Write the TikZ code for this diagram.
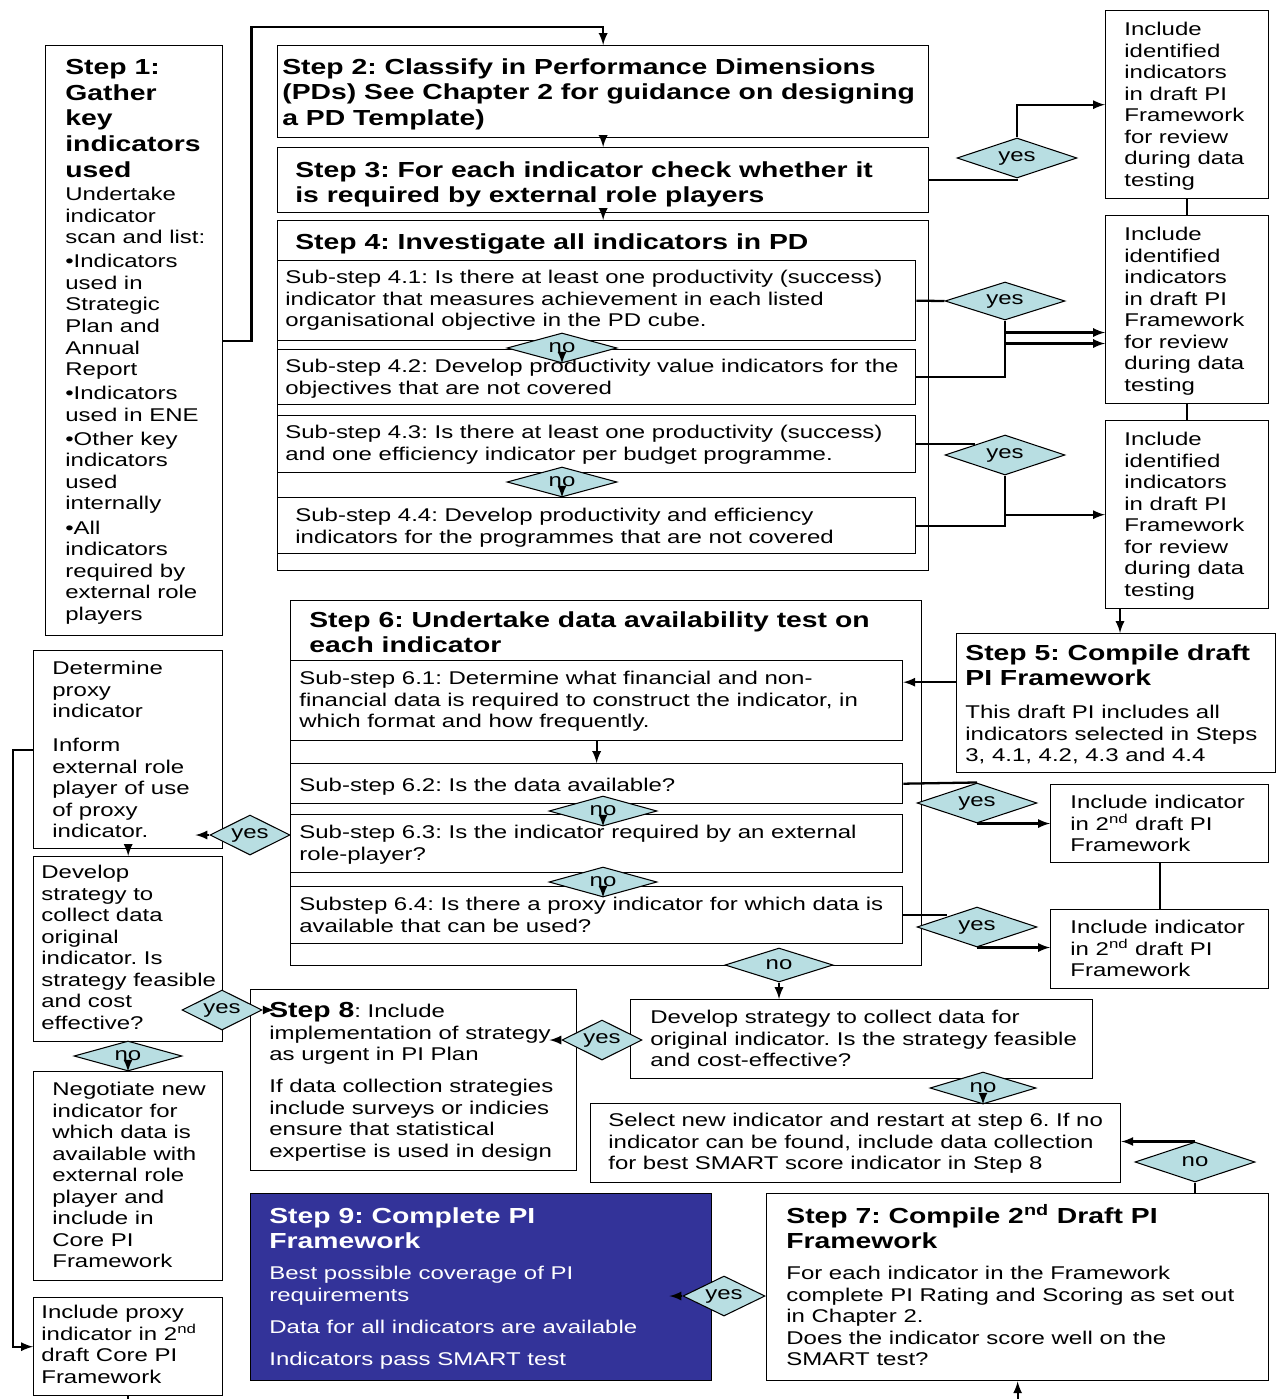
\documentclass[tikz,border=0pt]{standalone}
\usepackage{fontspec}
\setmainfont{Liberation Sans}[FakeStretch=1.3]
\usepackage{xcolor}
\usepackage{tikz}
\usetikzlibrary{calc, shapes.geometric, positioning}
\definecolor{diafill}{RGB}{184,222,226}
\definecolor{stepnine}{RGB}{51,51,153}
\frenchspacing

\begin{document}
\begin{tikzpicture}[>=latex, x=0.02cm, y=-0.02cm,
    box/.style={draw, line width=0.8pt, inner sep=0pt, anchor=north west},
    txt/.style={anchor=north west, inner sep=0pt, align=left, font=\fontsize{10.5}{12.25}\selectfont},
    hdr/.style={anchor=north west, inner sep=0pt, align=left, font=\fontsize{12.4}{14.6}\selectfont\bfseries},
    dia/.style={diamond, draw, fill=diafill, line width=0.6pt, inner sep=0pt, aspect=3, font=\fontsize{10.5}{12}\selectfont},
    link/.style={line width=1.3pt}]
    \useasboundingbox (0,0) rectangle (1276,1399);

    % Kästen
    \node[box, minimum width=3.54cm, minimum height=11.8cm] (s1) at (45,45) {};
    \node[box, minimum width=13.02cm, minimum height=1.84cm] (s2) at (277,45) {};
    \node[box, minimum width=13.02cm, minimum height=1.3cm] (s3) at (277,147) {};
    \node[box, minimum width=13.02cm, minimum height=7cm] (s4) at (277,220) {};
    \node[box, minimum width=12.76cm, minimum height=1.6cm] (s41) at (277,260) {};
    \node[box, minimum width=12.76cm, minimum height=1.1cm] (s42) at (277,349) {};
    \node[box, minimum width=12.76cm, minimum height=1.14cm] (s43) at (277,415) {};
    \node[box, minimum width=12.76cm, minimum height=1.12cm] (s44) at (277,497) {};
    \node[box, minimum width=3.26cm, minimum height=3.76cm] (r1) at (1105,10) {};
    \node[box, minimum width=3.26cm, minimum height=3.76cm] (r2) at (1105,215) {};
    \node[box, minimum width=3.26cm, minimum height=3.76cm] (r3) at (1105,420) {};
    \node[box, minimum width=6.38cm, minimum height=2.78cm] (s5) at (956,633) {};
    \node[box, minimum width=12.62cm, minimum height=7.3cm] (s6) at (290,600) {};
    \node[box, minimum width=12.24cm, minimum height=1.6cm] (s61) at (290,660) {};
    \node[box, minimum width=12.24cm, minimum height=0.8cm] (s62) at (290,763) {};
    \node[box, minimum width=12.24cm, minimum height=1.16cm] (s63) at (290,814) {};
    \node[box, minimum width=12.24cm, minimum height=1.14cm] (s64) at (290,886) {};
    \node[box, minimum width=4.36cm, minimum height=1.56cm] (i2a) at (1050,784) {};
    \node[box, minimum width=4.36cm, minimum height=1.58cm] (i2b) at (1050,909) {};
    \node[box, minimum width=3.78cm, minimum height=3.96cm] (dp) at (33,650) {};
    \node[box, minimum width=3.78cm, minimum height=3.7cm] (ds) at (33,856) {};
    \node[box, minimum width=3.78cm, minimum height=4.18cm] (ng) at (33,1071) {};
    \node[box, minimum width=3.78cm, minimum height=1.96cm] (ip) at (33,1297) {};
    \node[box, minimum width=6.52cm, minimum height=3.62cm] (s8) at (250,989) {};
    \node[box, minimum width=9.24cm, minimum height=1.58cm] (dv) at (630,999) {};
    \node[box, minimum width=10.6cm, minimum height=1.58cm] (sel) at (590,1103) {};
    \node[box, minimum width=10.04cm, minimum height=3.74cm] (s7) at (766,1193) {};
    \node[box, fill=stepnine, minimum width=9.22cm, minimum height=3.74cm] (s9) at (250,1193) {};

    % Texte
    \node[hdr] (s1h) at (65,59) {Step 1:\\Gather\\key\\indicators\\used};
    \node[txt] (s1t) at (65,187) {Undertake\\indicator\\scan and list:\\[1.5pt]•Indicators\\used in\\Strategic\\Plan and\\Annual\\Report\\[1.5pt]•Indicators\\used in ENE\\[1.5pt]•Other key\\indicators\\used\\internally\\[1.5pt]•All\\indicators\\required by\\external role\\players};
    \node[hdr] (s2h) at (282,58) {Step 2: Classify in Performance Dimensions\\(PDs) See Chapter 2 for guidance on designing\\a PD Template)};
    \node[hdr] (s3h) at (295,161) {Step 3: For each indicator check whether it\\is required by external role players};
    \node[hdr] (s4h) at (295,233) {Step 4: Investigate all indicators in PD};
    \node[txt] (s41t) at (285,270) {Sub-step 4.1: Is there at least one productivity (success)\\indicator that measures achievement in each listed\\organisational objective in the PD cube.};
    \node[txt] (s42t) at (285,359) {Sub-step 4.2: Develop productivity value indicators for the\\objectives that are not covered};
    \node[txt] (s43t) at (285,425) {Sub-step 4.3: Is there at least one productivity (success)\\and one efficiency indicator per budget programme.};
    \node[txt] (s44t) at (295,508) {Sub-step 4.4: Develop productivity and efficiency\\indicators for the programmes that are not covered};
    \node[txt] (r1t) at (1124,22) {Include\\identified\\indicators\\in draft PI\\Framework\\for review\\during data\\testing};
    \node[txt] (r2t) at (1124,227) {Include\\identified\\indicators\\in draft PI\\Framework\\for review\\during data\\testing};
    \node[txt] (r3t) at (1124,432) {Include\\identified\\indicators\\in draft PI\\Framework\\for review\\during data\\testing};
    \node[hdr] (s5h) at (965,644) {Step 5: Compile draft\\PI Framework};
    \node[txt] (s5t) at (965,705) {This draft PI includes all\\indicators selected in Steps\\3, 4.1, 4.2, 4.3 and 4.4};
    \node[hdr] (s6h) at (309,611) {Step 6: Undertake data availability test on\\each indicator};
    \node[txt] (s61t) at (299,671) {Sub-step 6.1: Determine what financial and non-\\financial data is required to construct the indicator, in\\which format and how frequently.};
    \node[txt] (s62t) at (299,778) {Sub-step 6.2: Is the data available?};
    \node[txt] (s63t) at (299,825) {Sub-step 6.3: Is the indicator required by an external\\role-player?};
    \node[txt] (s64t) at (299,897) {Substep 6.4: Is there a proxy indicator for which data is\\available that can be used?};
    \node[txt] (i2at) at (1070,795) {Include indicator\\in 2\smash{\textsuperscript{nd}} draft PI\\Framework};
    \node[txt] (i2bt) at (1070,920) {Include indicator\\in 2\smash{\textsuperscript{nd}} draft PI\\Framework};
    \node[txt] (dpt) at (52,661) {Determine\\proxy\\indicator\\[7pt]Inform\\external role\\player of use\\of proxy\\indicator.};
    \node[txt] (dst) at (41,865) {Develop\\strategy to\\collect data\\original\\indicator. Is\\strategy feasible\\and cost\\effective?};
    \node[txt] (ngt) at (52,1082) {Negotiate new\\indicator for\\which data is\\available with\\external role\\player and\\include in\\Core PI\\Framework};
    \node[txt] (ipt) at (41,1305) {Include proxy\\indicator in 2\smash{\textsuperscript{nd}}\\draft Core PI\\Framework};
    \node[txt] (s8t) at (269,1002) {{\fontsize{12.4}{14.6}\selectfont\bfseries Step 8}: Include\\implementation of strategy\\as urgent in PI Plan\\[6pt]If data collection strategies\\include surveys or indicies\\ensure that statistical\\expertise is used in design};
    \node[txt] (dvt) at (650,1010) {Develop strategy to collect data for\\original indicator. Is the strategy feasible\\and cost-effective?};
    \node[txt] (selt) at (608,1113) {Select new indicator and restart at step 6. If no\\indicator can be found, include data collection\\for best SMART score indicator in Step 8};
    \node[hdr] (s7h) at (786,1207) {Step 7: Compile 2\smash{\textsuperscript{nd}} Draft PI\\Framework};
    \node[txt] (s7t) at (786,1266) {For each indicator in the Framework\\complete PI Rating and Scoring as set out\\in Chapter 2.\\Does the indicator score well on the\\SMART test?};
    \node[hdr, text=white] (s9h) at (269,1207) {Step 9: Complete PI\\Framework};
    \node[txt, text=white] (s9t) at (269,1266) {Best possible coverage of PI\\requirements\\[6pt]Data for all indicators are available\\[6pt]Indicators pass SMART test};

    % Rauten
    \node[dia, minimum width=2.4cm, minimum height=0.8cm] (y1) at (1017,158) {yes};
    \node[dia, minimum width=2.4cm, minimum height=0.76cm] (y2) at (1005,301) {yes};
    \node[dia, minimum width=2.4cm, minimum height=0.8cm] (y3) at (1005,455) {yes};
    \node[dia, minimum width=2.2cm, minimum height=0.6cm] (n41) at (562,348) {no};
    \node[dia, minimum width=2.2cm, minimum height=0.6cm] (n43) at (562,482) {no};
    \node[dia, minimum width=2.4cm, minimum height=0.8cm] (y62) at (977,803) {yes};
    \node[dia, minimum width=2.4cm, minimum height=0.8cm] (y64) at (977,927) {yes};
    \node[dia, minimum width=2.16cm, minimum height=0.6cm] (n62) at (603,811) {no};
    \node[dia, minimum width=2.16cm, minimum height=0.6cm] (n63) at (603,882) {no};
    \node[dia, minimum width=2.16cm, minimum height=0.68cm] (n64) at (779,965) {no};
    \node[dia, minimum width=1.6cm, minimum height=0.8cm] (y63) at (250,835) {yes};
    \node[dia, minimum width=1.6cm, minimum height=0.8cm] (yd) at (222,1010) {yes};
    \node[dia, minimum width=2.16cm, minimum height=0.6cm] (nd) at (128,1056) {no};
    \node[dia, minimum width=1.6cm, minimum height=0.8cm] (yv) at (602,1040) {yes};
    \node[dia, minimum width=2.12cm, minimum height=0.64cm] (nv) at (983,1088) {no};
    \node[dia, minimum width=2.4cm, minimum height=0.8cm] (n7) at (1195,1162) {no};
    \node[dia, minimum width=1.64cm, minimum height=0.8cm] (y7) at (724,1296) {yes};

    % Verbindungen
    \draw[link,->] (s1.east) -- ++(28,0) |- ($(s2.north)+(0,-18)$) -- (s2.north);
    \draw[link,->] (s2.south) -- (s3.north);
    \draw[link,->] (s3.south) -- (s4.north);
    \draw[link] (s3.east) -| (y1.south);
    \draw[link,->] (y1.north) |- (r1.west);
    \draw[link] (s41.east) -- (y2.west);
    \draw[link] (y2.south) |- (s42.east);
    \draw[link,->] ($(y2.south)+(0,12)$) -- ($(y2.south -| r2.west)+(0,12)$);
    \draw[link,->] ($(y2.south)+(0,23)$) -- ($(y2.south -| r2.west)+(0,23)$);
    \draw[link] (s43.east) -- (s43.east -| y3.north west);
    \draw[link] (y3.south) |- (s44.east);
    \draw[link,->] (y3.south |- r3.west) -- (r3.west);
    \draw[link] (r1.south) -- (r2.north);
    \draw[link] (r2.south) -- (r3.north);
    \coordinate (r3x) at ($(r3.south west)+(15,0)$);
    \draw[link,->] (r3x) -- (r3x |- s5.north);
    \coordinate (s5x) at ($(s5.west)+(0,-21)$);
    \draw[link,->] (s5x) -- (s5x -| s61.east);
    \draw[link,->] (s61.south) -- (s62.north);
    \draw[link] (s62.east) -- (y62.north);
    \draw[link,->] (y62.south) -- (y62.south -| i2a.west);
    \draw[link] (s64.east) -- (s64.east -| y64.north west);
    \draw[link,->] (y64.south) -- (y64.south -| i2b.west);
    \draw[link] (i2a.south) -- (i2b.north);
    \draw[link,->] (y63.west) -- ++(-14,0);
    \foreach \n in {n41,n43,n62,n63,nd,nv}
        \draw[link,->] ($(\n.south)+(0,-6)$) -- (\n.south);
    \draw[link,->] (n64.south) -- (n64.south |- dv.north);
    \draw[link,->] (dp.south) -- (ds.north);
    \draw[link,->] (yd.east) -- ++(12,0);
    \draw[link,->] (dp.west) -- ++(-20,0) |- (ip.west);
    \draw[link] (ip.south) -- ++(0,6);
    \draw[link,->] (yv.west) -- ++(-12,0);
    \draw[link,->] (n7.north) -- (n7.north -| sel.east);
    \draw[link] (n7.south) -- (n7.south |- s7.north);
    \draw[link,->] (y7.west) -- ++(-13,0);
    \draw[link,<-] (s7.south) -- ++(0,19);
\end{tikzpicture}
\end{document}
